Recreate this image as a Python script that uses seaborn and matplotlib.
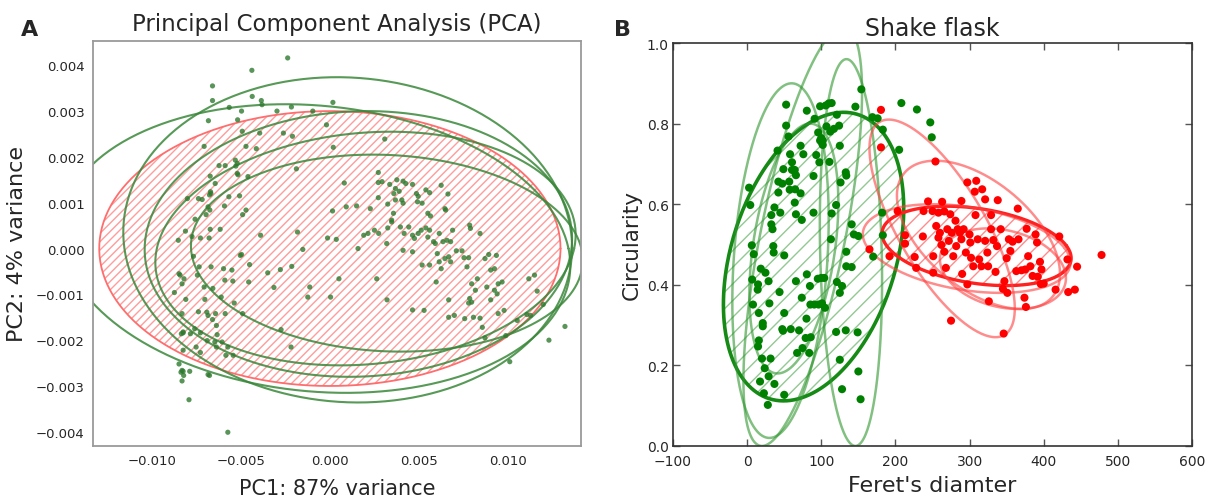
import numpy as np
import pandas as pd
import seaborn as sns
import matplotlib
matplotlib.use('Agg')
import matplotlib.pyplot as plt
from matplotlib.ticker import FuncFormatter

# ---------------- Panel A: PCA scores (units of 1e-3) ----------------
pca_pc1_milli = [
    -2.37, -4.38, -6.59, -4.36, -6.59, -3.85, -3.81, -5.65, -4.96, -2.97, -2.16, -0.96, 0.17, -6.82, -5.18,
    -0.19, -4.92, -3.94, -2.61, -2.10, -7.06, -4.71, -4.13, 0.19, 3.08, -5.31, -5.20, -5.28, -5.20, -5.16,
    -6.22, -5.88, -6.72, -4.60, -1.88, -6.44, 2.72, 0.81, -6.70, -6.68, -6.76, -8.00, -7.38, -7.17, -5.67,
    -5.07, -6.84, -6.74, -6.95, -5.92, -4.71, -4.90, -7.57, -8.11, -6.72, -6.16, -8.51, -7.74, -7.27, -6.78,
    -3.89, -1.82, -4.96, -5.03, -1.52, -0.13, 0.36, 0.15, 0.92, 1.50, 2.27, 2.72, 1.90, 2.14, 1.58,
    2.72, 2.93, 3.36, 3.76, 4.11, 4.26, 4.64, 3.68, 3.59, 3.89, 3.25, 3.68, 4.04, 4.11, 3.57,
    3.47, 3.96, 4.43, 4.17, 4.86, 4.96, 5.18, 5.39, 5.60, 6.25, 6.63, 4.92, 5.50, 5.65, 6.46,
    6.50, 2.50, 2.74, 3.25, 3.47, 3.19, 4.64, 4.75, 4.96, 5.13, 5.39, 5.60, 5.50, 5.82, 5.92,
    6.14, 6.35, 6.57, 6.78, 6.89, 7.10, 7.42, 7.85, 7.89, 8.43, 4.11, 4.64, 5.18, 5.60, 6.03,
    6.14, 6.25, 6.46, 6.67, 6.78, 7.53, 7.79, 7.70, 5.97, 5.29, 6.67,
    8.71, 8.92, 9.35, 9.03, 9.24, 8.28, 8.81, 9.45, 9.67, 7.96, 7.85, 7.96, 7.79, 8.17, 9.24,
    9.39, 9.03, 9.78, 9.45, 11.17, 11.49, 11.64, 11.27, 11.06, 10.52, 8.71, 8.56, 9.88, 8.43, 8.06,
    6.99, 6.67, 7.57, 13.2, 12.3, 10.1, 11.98,
    -3.49, -2.78, -2.14, -3.14, -1.13, -1.24, 0.04, 0.51, 2.63, 3.21, 4.64, -2.74, -2.18, -4.56, -4.51,
    -5.50, -5.97, -5.90, -5.45, -6.57, -7.06, -7.44, -7.34, -6.67, -7.66, -8.47, -8.41, -8.19, -8.30, -8.73,
    -8.09, -7.02, -6.10, -5.37, -5.88, -4.90, -7.38, -6.91, -6.84, -6.42, -6.59, -8.30, -8.24, -8.34, -8.24,
    -7.83, -7.59, -7.27, -6.89, -6.37, -6.33, -6.46, -6.05, -6.37, -5.73, -7.51, -8.24, -7.27, -5.84, -5.43,
    -8.47, -8.30, -8.24, -8.36, -7.87, -8.21, -8.30, -6.84, -6.76, -7.91, -5.73,
]
pca_pc2_milli = [
    4.16, 3.89, 3.55, 3.32, 3.23, 3.23, 3.14, 3.08, 3.00, 3.00, 3.09, 3.00, 3.19, 2.79, 2.81,
    2.70, 2.56, 2.52, 2.52, 2.45, 2.23, 2.23, 2.18, 2.21, 2.39, 1.93, 1.86, 1.80, 1.64, 1.61,
    1.81, 1.81, 1.58, 1.57, 1.74, 1.42, 1.66, 1.43, 1.24, 1.20, 1.17, 1.09, 1.09, 1.07, 1.13,
    1.15, 0.91, 0.84, 0.74, 0.93, 0.84, 0.74, 0.64, 0.38, 0.42, 0.42, 0.18, 0.26, 0.23, 0.23,
    0.29, 0.36, -0.13, -0.15, -0.02, 0.23, 0.20, 0.82, 0.91, 0.93, 0.87, 1.11, 0.29, 0.33, 0.00,
    1.44, 1.46, 1.40, 1.50, 1.47, 1.42, 1.40, 1.31, 1.20, 1.25, 0.97, 1.06, 1.06, 0.99, 0.77,
    0.62, 0.47, 0.47, 0.33, 1.20, 1.14, 0.99, 1.28, 1.22, 1.38, 1.19, 1.02, 0.77, 0.71, 0.87,
    0.84, 0.40, 0.33, 0.45, 0.58, 0.11, 0.29, 0.22, 0.33, 0.40, 0.45, 0.40, 0.25, 0.15, 0.11,
    0.33, 0.15, 0.18, 0.15, 0.40, -0.05, -0.05, 0.51, 0.44, 0.33, -0.04, -0.07, -0.36, -0.36, -0.11,
    -0.29, -0.44, -0.22, -0.18, -0.29, -0.20, -0.20, -0.40, -0.73, -1.35, -1.12,
    -0.22, -0.13, -0.15, -0.47, -0.44, -0.66, -0.84, -0.77, -0.73, -0.77, -1.09, -1.17, -1.19, -0.91, -0.91,
    -0.99, -1.12, -1.35, -1.42, -0.66, -0.58, -0.93, -1.46, -1.44, -1.57, -1.95, -1.72, -1.90, -1.52, -1.50,
    -1.46, -1.50, -1.53, -1.70, -2.00, -2.47, -1.22,
    -0.53, -0.46, -0.39, -0.85, -0.84, -1.06, -1.06, -0.66, -0.66, -1.12, -1.34, -1.77, -2.15, -0.73, -0.35,
    -0.47, -0.44, -0.69, -0.71, -0.87, -0.84, -0.58, -0.40, -0.40, -0.17, -0.55, -0.58, -0.66, -0.77, -0.96,
    -1.11, -1.11, -1.06, -1.19, -1.42, -1.42, -1.38, -1.39, -1.46, -1.42, -1.55, -1.42, -1.84, -1.86, -1.82,
    -1.86, -1.75, -1.84, -2.01, -1.68, -1.88, -2.04, -2.04, -2.15, -2.15, -2.15, -2.22, -2.27, -2.33, -2.33,
    -2.52, -2.66, -2.68, -2.70, -2.68, -2.77, -2.89, -2.75, -2.77, -3.30, -4.01,
]

# ellipses: centre, half-width, half-height, x-offset of the top point (units of 1e-3)
pca_red_ell = dict(cx=0.0, cy=0.0, w=12.95, h=3.0, dx=0.0)
pca_green_cx = [1.0, -0.8, 1.6, 2.0, 3.2]
pca_green_cy = [0.19, 0.0, 0.1, 0.0, -0.1]
pca_green_w = [12.6, 14.3, 12.0, 11.8, 11.0]
pca_green_h = [3.55, 3.15, 2.9, 2.55, 2.15]
pca_green_dx = [-0.6, -1.7, 0.5, 1.4, -0.8]

# ---------------- Panel B: shake flask morphology ----------------
green_feret = [
    2.6, 4.2, 6.3, 8.9, 6.8, 14.7, 14.2, 7.9, 15.8, 21.1, 21.1, 15.8, 14.7, 20, 31.6, 23.7, 17.4, 29, 22.6, 27.9,
    36.8, 50, 18.4, 24.7, 28.9, 30, 43.7, 35.3, 35.8, 34.2, 32.6, 32.6, 36.8, 42.1, 47.4, 42.1, 44.7, 41, 48.9,
    52.6, 52.6, 55.8, 57.9, 56.8, 57.4, 60.5, 60.5, 64.2, 65.8, 64.7, 64.2, 65.8, 72.1, 75.8, 72.1, 73.7, 50,
    50, 47.4, 48.4, 58.9, 65.8, 67.4, 70, 73.7, 74.7, 80, 80.5, 78.9, 83.7, 84.7, 85.8, 85.3, 90.5, 96.3, 101,
    105, 95.3, 100, 104, 80.5, 91, 89.5, 89.5, 93.2, 95.8, 97.4, 98.4, 100, 101, 102, 102, 98.4, 106, 110, 114,
    107, 112, 117, 124, 121, 111, 114, 120, 126, 125, 133, 133.7, 113, 121, 128, 125, 120, 125, 128, 133,
    133.7, 141, 133.7, 141, 144, 150, 146, 154, 149, 150, 153, 170, 176, 183, 182, 183, 205, 208, 229, 247,
    249, 169,
]
green_circ = [
    0.641, 0.598, 0.498, 0.476, 0.413, 0.401, 0.388, 0.351, 0.330, 0.305, 0.297, 0.262, 0.247, 0.217, 0.217,
    0.193, 0.160, 0.173, 0.131, 0.102, 0.154, 0.127, 0.440, 0.430, 0.409, 0.354, 0.382, 0.496, 0.480, 0.538,
    0.550, 0.573, 0.592, 0.629, 0.651, 0.656, 0.579, 0.733, 0.687, 0.795, 0.847, 0.768, 0.724, 0.656, 0.636,
    0.704, 0.685, 0.685, 0.672, 0.637, 0.604, 0.575, 0.745, 0.724, 0.627, 0.561, 0.473, 0.330, 0.290, 0.286,
    0.290, 0.409, 0.231, 0.287, 0.368, 0.243, 0.316, 0.426, 0.268, 0.231, 0.397, 0.270, 0.351, 0.351, 0.351,
    0.354, 0.343, 0.415, 0.417, 0.417, 0.832, 0.812, 0.670, 0.579, 0.722, 0.778, 0.704, 0.758, 0.764, 0.752,
    0.758, 0.747, 0.843, 0.845, 0.850, 0.851, 0.793, 0.780, 0.787, 0.795, 0.822, 0.705, 0.577, 0.598, 0.654,
    0.745, 0.679, 0.671, 0.513, 0.407, 0.397, 0.380, 0.283, 0.214, 0.141, 0.287, 0.446, 0.444, 0.482, 0.550,
    0.525, 0.521, 0.842, 0.885, 0.282, 0.185, 0.116, 0.470, 0.813, 0.785, 0.579, 0.523, 0.735, 0.851, 0.835,
    0.803, 0.766, 0.816,
]
red_feret = [
    180.5, 180.5, 165, 192, 203, 213, 213, 226, 228, 237, 238, 244, 250, 251, 251, 254, 255, 258, 258, 260,
    262, 263, 266, 266, 268, 270, 272, 274, 275, 276, 278, 281, 282, 284, 287, 289, 289, 290, 292, 295, 297,
    297, 300, 301, 302, 305, 307, 308, 309, 311, 313, 316, 317, 321, 321, 324, 325, 326, 329, 332, 335, 337,
    338, 342, 345, 347, 346, 350, 351, 353, 355, 358, 363, 365, 366, 370, 374, 375, 376, 377, 379, 382, 385,
    389, 391, 392, 395, 396, 400, 397, 416, 421, 432, 433, 442, 445, 478, 329,
]
red_circ = [
    0.834, 0.741, 0.488, 0.471, 0.583, 0.523, 0.502, 0.469, 0.442, 0.520, 0.583, 0.607, 0.583, 0.430, 0.471,
    0.706, 0.546, 0.579, 0.517, 0.529, 0.499, 0.606, 0.582, 0.482, 0.442, 0.538, 0.509, 0.575, 0.311, 0.529,
    0.471, 0.559, 0.496, 0.538, 0.529, 0.608, 0.513, 0.427, 0.538, 0.480, 0.654, 0.401, 0.525, 0.505, 0.467,
    0.446, 0.631, 0.573, 0.658, 0.513, 0.463, 0.446, 0.637, 0.612, 0.509, 0.480, 0.446, 0.359, 0.538, 0.511,
    0.432, 0.496, 0.610, 0.538, 0.390, 0.409, 0.279, 0.466, 0.380, 0.513, 0.484, 0.507, 0.434, 0.589, 0.513,
    0.436, 0.368, 0.438, 0.345, 0.539, 0.471, 0.446, 0.422, 0.525, 0.505, 0.420, 0.457, 0.402, 0.403, 0.438,
    0.388, 0.520, 0.463, 0.382, 0.388, 0.445, 0.474, 0.573,
]

# ellipses (first entry = pooled, drawn thick and hatched)
green_ell_cx = [89.6, 63, 45, 75, 140]
green_ell_cy = [0.470, 0.49, 0.46, 0.52, 0.48]
green_ell_w = [121.6, 60, 65, 80, 42]
green_ell_h = [0.358, 0.31, 0.44, 0.52, 0.48]
green_ell_dx = [40.5, 22, 15, 55, -6]

red_ell_cx = [309.5, 263, 312, 296, 345]
red_ell_cy = [0.4965, 0.54, 0.524, 0.49, 0.44]
red_ell_w = [127.5, 98, 110, 140, 85]
red_ell_h = [0.0985, 0.27, 0.184, 0.11, 0.10]
red_ell_dx = [-39.5, -72, -58, -45, -20]


def ellipse_xy(cx, cy, w, h, dx, n=300):
    """Ellipse from centre, half extents and the x offset of its top point."""
    t = np.linspace(0, 2 * np.pi, n)
    q = np.sqrt(w ** 2 - dx ** 2)
    return cx + q * np.cos(t) + dx * np.sin(t), cy + h * np.sin(t)


def minus_fmt(fmt):
    return FuncFormatter(lambda v, pos: (fmt % v).replace('-', '\u2212'))


sns.set_style('white')
plt.rcParams['font.family'] = ['DejaVu Sans']
plt.rcParams['hatch.linewidth'] = 1.0

fig = plt.figure(figsize=(12.13, 5.02), dpi=100)
ax_a = fig.add_axes([93 / 1213, 55 / 502, 488 / 1213, 405 / 502])
ax_b = fig.add_axes([673 / 1213, 55 / 502, 519 / 1213, 403 / 502])

# ---- Panel A ----
k = 1e-3
pca_df = pd.DataFrame({'pc1': np.array(pca_pc1_milli) * k, 'pc2': np.array(pca_pc2_milli) * k})

ex, ey = ellipse_xy(*[pca_red_ell[c] * k for c in ('cx', 'cy', 'w', 'h', 'dx')])
ax_a.fill(ex, ey, facecolor='none', edgecolor='#ff9c9c', hatch='////', linewidth=0, zorder=1)
ax_a.plot(ex, ey, color='#ff6d6d', lw=1.3, zorder=2)
for cx, cy, w, h, dx in zip(pca_green_cx, pca_green_cy, pca_green_w, pca_green_h, pca_green_dx):
    gx, gy = ellipse_xy(cx * k, cy * k, w * k, h * k, dx * k)
    ax_a.plot(gx, gy, color='#3a873a', lw=1.5, alpha=0.85, zorder=2)

sns.scatterplot(data=pca_df, x='pc1', y='pc2', ax=ax_a, color='#2f7a2f', s=14,
                alpha=0.8, edgecolor='none', zorder=3)

ax_a.set_xlim(-0.0133, 0.0141)
ax_a.set_ylim(-0.00431, 0.00453)
ax_a.set_xticks([-0.010, -0.005, 0.0, 0.005, 0.010])
ax_a.set_yticks(np.arange(-0.004, 0.0041, 0.001))
ax_a.xaxis.set_major_formatter(minus_fmt('%.3f'))
ax_a.yaxis.set_major_formatter(minus_fmt('%.3f'))
ax_a.tick_params(length=0, labelsize=9.5, pad=6)
for sp in ax_a.spines.values():
    sp.set_color('#9a9a9a')
    sp.set_linewidth(1.3)
ax_a.set_xlabel('PC1: 87% variance', fontsize=15, labelpad=8)
ax_a.set_ylabel('PC2: 4% variance', fontsize=16, labelpad=6)
ax_a.set_title('Principal Component Analysis (PCA)', fontsize=16.5, pad=8)

# ---- Panel B ----
flask_df = pd.concat([
    pd.DataFrame({'feret': green_feret, 'circ': green_circ, 'grp': 'green'}),
    pd.DataFrame({'feret': red_feret, 'circ': red_circ, 'grp': 'red'}),
])

for i, (cx, cy, w, h, dx) in enumerate(zip(green_ell_cx, green_ell_cy, green_ell_w, green_ell_h, green_ell_dx)):
    gx, gy = ellipse_xy(cx, cy, w, h, dx)
    if i == 0:
        ax_b.fill(gx, gy, facecolor='none', edgecolor='#92c892', hatch='//', linewidth=0, zorder=1)
        ax_b.plot(gx, gy, color='#158a15', lw=2.6, zorder=2)
    else:
        ax_b.plot(gx, gy, color='#2e962e', lw=1.8, alpha=0.6, zorder=2)

for i, (cx, cy, w, h, dx) in enumerate(zip(red_ell_cx, red_ell_cy, red_ell_w, red_ell_h, red_ell_dx)):
    rx, ry = ellipse_xy(cx, cy, w, h, dx)
    if i == 0:
        ax_b.fill(rx, ry, facecolor='none', edgecolor='#ff8c8c', hatch='//', linewidth=0, zorder=1)
        ax_b.plot(rx, ry, color='#ff2020', lw=2.4, zorder=2)
    else:
        ax_b.plot(rx, ry, color='#ff4040', lw=1.8, alpha=0.6, zorder=2)

sns.scatterplot(data=flask_df, x='feret', y='circ', hue='grp', ax=ax_b,
                palette={'green': (0, 0.5, 0), 'red': (1, 0, 0)}, s=34,
                edgecolor='none', legend=False, zorder=3)

ax_b.set_xlim(-100, 600)
ax_b.set_ylim(0, 1.0)
ax_b.set_xticks(np.arange(-100, 601, 100))
ax_b.set_yticks(np.arange(0, 1.01, 0.2))
ax_b.xaxis.set_major_formatter(minus_fmt('%d'))
ax_b.yaxis.set_major_formatter(minus_fmt('%.1f'))
ax_b.tick_params(direction='in', length=5, width=1, top=True, right=True,
                 bottom=True, left=True, labelsize=10, color='#555555')
ax_b.tick_params(axis='x', pad=6)
ax_b.tick_params(axis='y', pad=3)
for sp in ax_b.spines.values():
    sp.set_color('#333333')
    sp.set_linewidth(1.2)
ax_b.set_xlabel("Feret's diamter", fontsize=16, labelpad=5)
ax_b.set_ylabel('Circularity', fontsize=15.5, labelpad=4)
ax_b.set_title('Shake flask', fontsize=17, pad=6)

fig.text(30 / 1213, 1 - 30 / 502, 'A', fontsize=16, fontweight='bold', ha='center', va='center')
fig.text(622 / 1213, 1 - 30 / 502, 'B', fontsize=16, fontweight='bold', ha='center', va='center')

fig.savefig('out.png', dpi=100)
